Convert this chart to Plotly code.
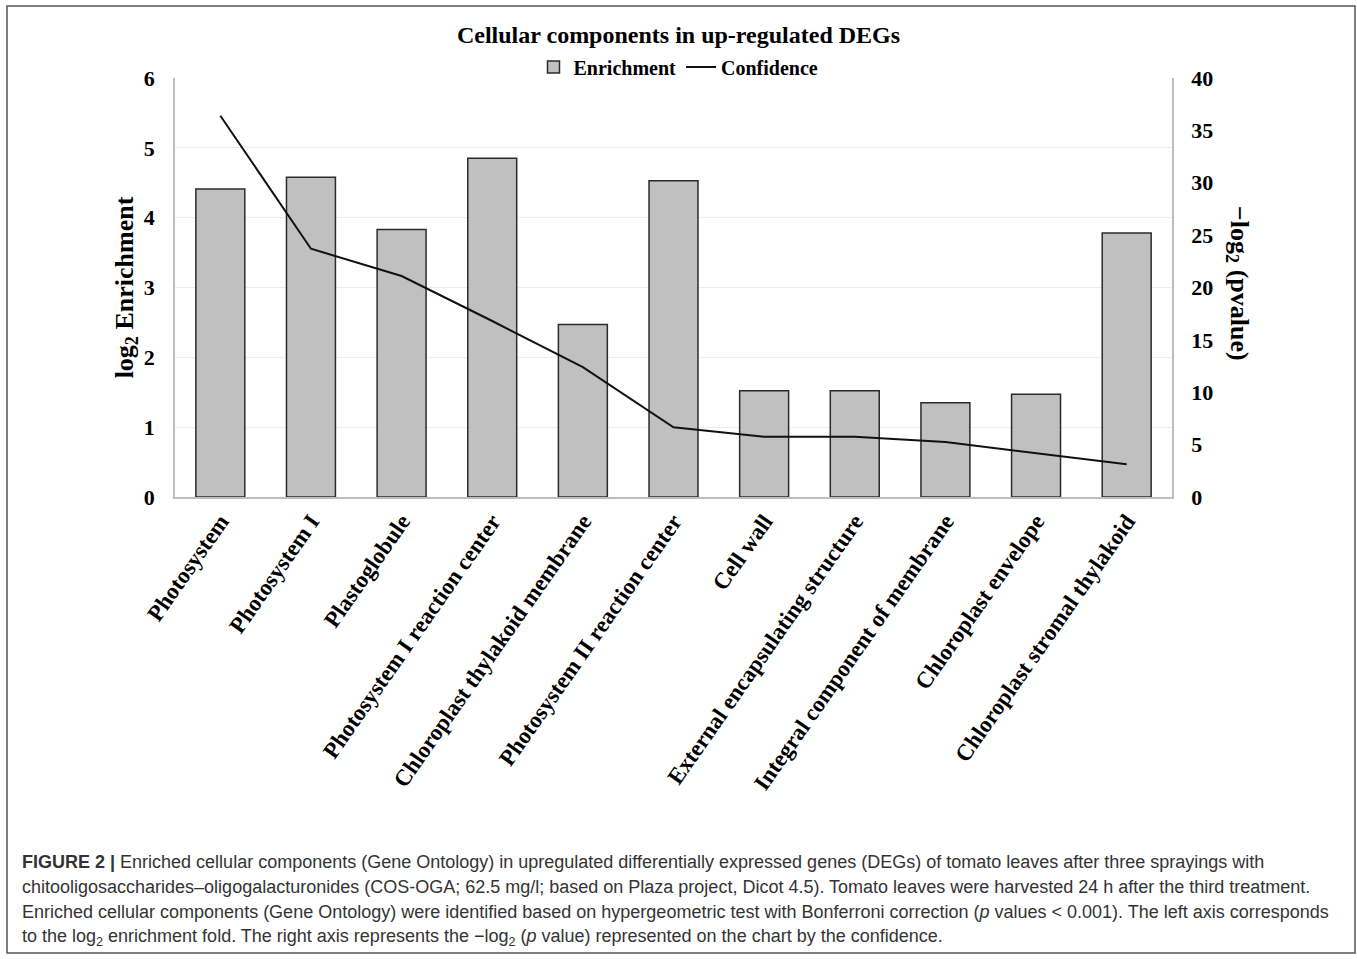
import plotly.graph_objects as go

# GO cellular-component terms enriched in up-regulated DEGs
components = [
    "Photosystem",
    "Photosystem I",
    "Plastoglobule",
    "Photosystem I reaction center",
    "Chloroplast thylakoid membrane",
    "Photosystem II reaction center",
    "Cell wall",
    "External encapsulating structure",
    "Integral component of membrane",
    "Chloroplast envelope",
    "Chloroplast stromal thylakoid",
]
# log2 enrichment fold (left axis)
log2_enrichment = [4.41, 4.58, 3.83, 4.85, 2.47, 4.53, 1.52, 1.52, 1.35, 1.47, 3.78]
# -log2(p value) (right axis)
neg_log2_pvalue = [36.4, 23.7, 21.1, 16.8, 12.4, 6.65, 5.76, 5.76, 5.25, 4.15, 3.12]

left_ticks = [0, 1, 2, 3, 4, 5, 6]
right_ticks = [0, 5, 10, 15, 20, 25, 30, 35, 40]

SERIF = "Liberation Serif, Times New Roman, serif"
CAPTION_FONT = "Liberation Sans, Arial, sans-serif"

fig = go.Figure()
fig.add_trace(go.Bar(
    x=components, y=log2_enrichment, name="Enrichment",
    marker=dict(color="#c0c0c0", line=dict(color="#2b2b2b", width=1.5)),
))
fig.add_trace(go.Scatter(
    x=components, y=neg_log2_pvalue, name="Confidence", yaxis="y2",
    mode="lines", line=dict(color="#111111", width=2),
))

W, H = 1357, 959
L, R, T, B = 175, 1172, 78, 497  # plot area in pixels


def px_x(p):
    return (p - L) / (R - L)


def px_y(p):
    return (B - p) / (B - T)


fig.update_layout(
    width=W, height=H,
    margin=dict(l=L, r=W - R, t=T, b=H - B, autoexpand=False),
    paper_bgcolor="white", plot_bgcolor="white",
    bargap=0.46,
    font=dict(family=SERIF, color="#000000"),
    title=dict(
        text="<b>Cellular components in up-regulated DEGs</b>",
        x=0.5, xref="container", xanchor="center",
        y=1 - 35 / H, yref="container", yanchor="middle",
        font=dict(family=SERIF, size=24, color="#000000"),
    ),
    legend=dict(
        orientation="h", x=0.5, xref="container", xanchor="center",
        y=1 - 67 / H, yref="container", yanchor="middle",
        font=dict(family=SERIF, size=20, color="#000000", weight="bold"),
        itemwidth=30, bgcolor="rgba(0,0,0,0)",
    ),
    xaxis=dict(
        tickangle=-55, automargin=False,
        tickfont=dict(family=SERIF, size=23, color="#000000", weight="bold"),
        showline=True, linecolor="#bdbdbd", linewidth=1.5,
        ticks="", showgrid=False,
    ),
    yaxis=dict(
        range=[0, 6], tickvals=left_ticks, automargin=False,
        tickfont=dict(family=SERIF, size=22, color="#000000", weight="bold"),
        ticklabelstandoff=14,
        showgrid=True, gridcolor="#ececec", gridwidth=1,
        showline=True, linecolor="#bdbdbd", linewidth=1.5,
        zeroline=False,
        title=dict(text="log<sub>2</sub> Enrichment", standoff=3,
                   font=dict(family=SERIF, size=26, color="#000000", weight="bold")),
    ),
    yaxis2=dict(
        range=[0, 40], tickvals=right_ticks, overlaying="y", side="right",
        automargin=False,
        tickfont=dict(family=SERIF, size=22, color="#000000", weight="bold"),
        ticklabelstandoff=13,
        showgrid=False, zeroline=False,
        showline=True, linecolor="#bdbdbd", linewidth=1.5,
    ),
)

# right axis title, reading top to bottom
fig.add_annotation(
    text="<b>\u2212log<sub>2</sub> (pvalue)</b>",
    xref="paper", yref="paper", x=px_x(1238), y=px_y(283),
    xanchor="center", yanchor="middle", textangle=90, showarrow=False,
    font=dict(family=SERIF, size=26, color="#000000"),
)

# figure caption
caption_lines = [
    "<b>FIGURE 2 |</b> Enriched cellular components (Gene Ontology) in upregulated differentially expressed genes (DEGs) of tomato leaves after three sprayings with",
    "chitooligosaccharides\u2013oligogalacturonides (COS-OGA; 62.5 mg/l; based on Plaza project, Dicot 4.5). Tomato leaves were harvested 24 h after the third treatment.",
    "Enriched cellular components (Gene Ontology) were identified based on hypergeometric test with Bonferroni correction (<i>p</i> values &lt; 0.001). The left axis corresponds",
    "to the log<sub>2</sub> enrichment fold. The right axis represents the \u2212log<sub>2</sub> (<i>p</i> value) represented on the chart by the confidence.",
]
for i, line in enumerate(caption_lines):
    fig.add_annotation(
        text=line, xref="paper", yref="paper",
        x=px_x(20), y=px_y(862 + 25 * i),
        xanchor="left", yanchor="middle", showarrow=False, align="left",
        font=dict(family=CAPTION_FONT, size=18, color="#333333"),
    )

# outer frame around chart and caption
fig.add_shape(
    type="rect", xref="paper", yref="paper",
    x0=px_x(7), x1=px_x(1355), y0=px_y(953), y1=px_y(6),
    line=dict(color="#555555", width=1.5), fillcolor="rgba(0,0,0,0)",
    layer="below",
)

fig.write_html("out.html")
